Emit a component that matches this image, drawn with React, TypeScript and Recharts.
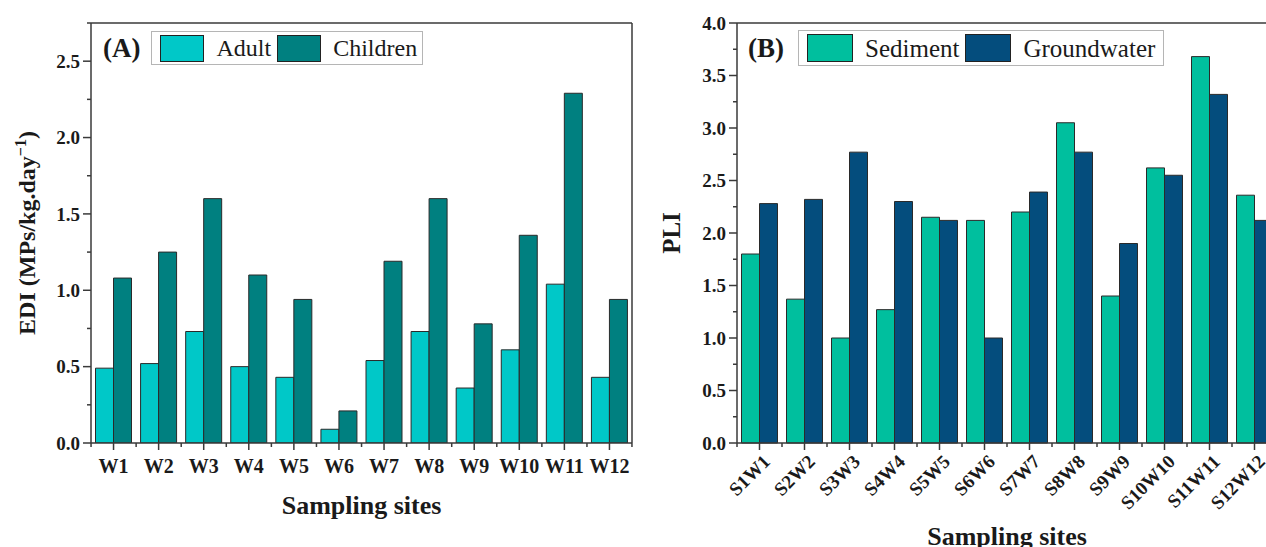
import React from "react";
import { BarChart, Bar, XAxis, YAxis, Legend, Label } from "recharts";

const sites = ["W1", "W2", "W3", "W4", "W5", "W6", "W7", "W8", "W9", "W10", "W11", "W12"];
const adult = [0.49, 0.52, 0.73, 0.5, 0.43, 0.09, 0.54, 0.73, 0.36, 0.61, 1.04, 0.43];
const children = [1.08, 1.25, 1.6, 1.1, 0.94, 0.21, 1.19, 1.6, 0.78, 1.36, 2.29, 0.94];

const pairSites = ["S1W1", "S2W2", "S3W3", "S4W4", "S5W5", "S6W6", "S7W7", "S8W8", "S9W9", "S10W10", "S11W11", "S12W12"];
const sediment = [1.8, 1.37, 1.0, 1.27, 2.15, 2.12, 2.2, 3.05, 1.4, 2.62, 3.68, 2.36];
const groundwater = [2.28, 2.32, 2.77, 2.3, 2.12, 1.0, 2.39, 2.77, 1.9, 2.55, 3.32, 2.12];

const ediTicks = [0, 0.5, 1.0, 1.5, 2.0, 2.5];
const ediMinor = [0.25, 0.75, 1.25, 1.75, 2.25, 2.75];
const pliTicks = [0, 0.5, 1.0, 1.5, 2.0, 2.5, 3.0, 3.5, 4.0];
const pliMinor = [0.25, 0.75, 1.25, 1.75, 2.25, 2.75, 3.25, 3.75];

const dataA = sites.map((site, i) => ({ site, adult: adult[i], children: children[i] }));
const dataB = pairSites.map((site, i) => ({ site, sediment: sediment[i], groundwater: groundwater[i] }));

const FONT = "'Liberation Serif', 'Times New Roman', serif";
const INK = "#1a1a1a";
const AXIS = "#3a3a3a";
const BAND = 45;

const makeYTick = (majors: number[]) => (props: any) => {
  const { x, y, payload } = props;
  const major = majors.includes(payload.value);
  return (
    <g>
      <line x1={x - (major ? 8 : 4)} x2={x} y1={y} y2={y} stroke={AXIS} strokeWidth={1.5} />
      {major && (
        <text x={x - 11} y={y} dy="0.35em" textAnchor="end" fontFamily={FONT} fontWeight={700} fontSize={19} fill={INK}>
          {payload.value.toFixed(1)}
        </text>
      )}
    </g>
  );
};

const makeXTick = (rotated: boolean, count: number) => (props: any) => {
  const { x, y, payload, index } = props;
  return (
    <g>
      <line x1={x} x2={x} y1={y} y2={y + 7} stroke={AXIS} strokeWidth={1.5} />
      <line x1={x - BAND / 2} x2={x - BAND / 2} y1={y} y2={y + 4} stroke={AXIS} strokeWidth={1.5} />
      {index === count - 1 && (
        <line x1={x + BAND / 2} x2={x + BAND / 2} y1={y} y2={y + 4} stroke={AXIS} strokeWidth={1.5} />
      )}
      {rotated ? (
        <text
          x={x + 7}
          y={y + 15}
          textAnchor="end"
          dy="0.35em"
          transform={`rotate(-45, ${x + 7}, ${y + 15})`}
          fontFamily={FONT}
          fontWeight={700}
          fontSize={19}
          fill={INK}
        >
          {payload.value}
        </text>
      ) : (
        <text x={x} y={y + 30} textAnchor="middle" fontFamily={FONT} fontWeight={700} fontSize={20} fill={INK}>
          {payload.value}
        </text>
      )}
    </g>
  );
};

const makeLegend = (
  tag: string,
  order: string[],
  size: number,
  gapTag: number,
  boxW: number,
  boxH: number,
  sw: number,
  sh: number
) => ({ payload }: any) => {
  const items = [...(payload || [])].sort((a: any, b: any) => order.indexOf(a.value) - order.indexOf(b.value));
  return (
    <div style={{ display: "flex", alignItems: "center", fontFamily: FONT, color: INK }}>
      <span style={{ fontWeight: 700, fontSize: 27, marginRight: gapTag }}>{tag}</span>
      <div
        style={{
          display: "flex",
          alignItems: "center",
          border: "1px solid #b5b5b5",
          width: boxW,
          height: boxH,
          boxSizing: "border-box",
          paddingLeft: 8,
        }}
      >
        {items.map((p: any, i: number) => (
          <React.Fragment key={p.value}>
            <span
              style={{
                display: "inline-block",
                width: sw,
                height: sh,
                background: p.color,
                border: "1px solid #222",
                boxSizing: "border-box",
                marginLeft: i === 0 ? 0 : 6,
              }}
            />
            <span style={{ fontSize: size, marginLeft: 12, lineHeight: 1 }}>{p.value}</span>
          </React.Fragment>
        ))}
      </div>
    </div>
  );
};

const xTitle = (dy: number) => (props: any) => {
  const vb = props.viewBox;
  return (
    <text x={vb.x + vb.width / 2} y={vb.y + dy} textAnchor="middle" fontFamily={FONT} fontWeight={700} fontSize={26} fill={INK}>
      Sampling sites
    </text>
  );
};

const ediTitle = (props: any) => {
  const vb = props.viewBox;
  const cx = 27;
  const cy = vb.y + vb.height / 2;
  return (
    <text
      x={cx}
      y={cy}
      dy="0.35em"
      textAnchor="middle"
      transform={`rotate(-90, ${cx}, ${cy})`}
      fontFamily={FONT}
      fontWeight={700}
      fontSize={24}
      fill={INK}
    >
      EDI (MPs/kg.day
      <tspan dy="-9" fontSize={16}>−1</tspan>
      <tspan dy="9">)</tspan>
    </text>
  );
};

const pliTitle = (props: any) => {
  const vb = props.viewBox;
  const cx = 31;
  const cy = vb.y + vb.height / 2;
  return (
    <text
      x={cx}
      y={cy}
      dy="0.35em"
      textAnchor="middle"
      transform={`rotate(-90, ${cx}, ${cy})`}
      fontFamily={FONT}
      fontWeight={700}
      fontSize={25}
      fill={INK}
    >
      PLI
    </text>
  );
};

export default function App() {
  const ediAll = [...ediTicks, ...ediMinor].sort((a, b) => a - b);
  const pliAll = [...pliTicks, ...pliMinor].sort((a, b) => a - b);
  return (
    <div
      style={{
        position: "absolute",
        left: 0,
        top: 0,
        width: 1266,
        height: 547,
        overflow: "hidden",
        background: "#fff",
      }}
    >
      <div style={{ position: "absolute", left: 0, top: 0 }}>
        <BarChart
          width={640}
          height={547}
          data={dataA}
          margin={{ top: 22, right: 7, bottom: 0, left: 0 }}
          barCategoryGap="10%"
          barGap={0}
        >
          <XAxis
            dataKey="site"
            height={104}
            interval={0}
            tickSize={0}
            tickMargin={0}
            tickLine={false}
            axisLine={{ stroke: AXIS, strokeWidth: 1.5 }}
            tick={makeXTick(false, sites.length)}
          >
            <Label content={xTitle(71)} />
          </XAxis>
          <XAxis
            xAxisId="top"
            dataKey="site"
            orientation="top"
            height={1}
            tick={false}
            tickLine={false}
            axisLine={{ stroke: AXIS, strokeWidth: 1.5 }}
          />
          <YAxis
            width={91}
            domain={[0, 2.75]}
            ticks={ediAll}
            interval={0}
            allowDataOverflow
            tickSize={0}
            tickMargin={0}
            tickLine={false}
            axisLine={{ stroke: AXIS, strokeWidth: 1.5 }}
            tick={makeYTick(ediTicks)}
          >
            <Label content={ediTitle} />
          </YAxis>
          <YAxis
            yAxisId="right"
            orientation="right"
            type="number"
            domain={[0, 2.75]}
            width={1}
            tick={false}
            tickLine={false}
            axisLine={{ stroke: AXIS, strokeWidth: 1.5 }}
          />
          <Legend
            verticalAlign="middle"
            layout="horizontal"
            align="center"
            wrapperStyle={{ left: 103, top: 31, width: "auto", height: "auto" }}
            content={makeLegend("(A)", ["Adult", "Children"], 24, 11, 272, 34, 44, 27)}
          />
          <Bar dataKey="adult" name="Adult" fill="#00C8C8" stroke="#2a2a2a" strokeWidth={1} isAnimationActive={false} />
          <Bar dataKey="children" name="Children" fill="#008080" stroke="#2a2a2a" strokeWidth={1} isAnimationActive={false} />
        </BarChart>
      </div>

      <div style={{ position: "absolute", left: 640, top: 0 }}>
        <BarChart
          width={640}
          height={547}
          data={dataB}
          margin={{ top: 22, right: 3, bottom: 0, left: 0 }}
          barCategoryGap="10%"
          barGap={0}
        >
          <XAxis
            dataKey="site"
            height={104}
            interval={0}
            tickSize={0}
            tickMargin={0}
            tickLine={false}
            axisLine={{ stroke: AXIS, strokeWidth: 1.5 }}
            tick={makeXTick(true, pairSites.length)}
          >
            <Label content={xTitle(102)} />
          </XAxis>
          <XAxis
            xAxisId="top"
            dataKey="site"
            orientation="top"
            height={1}
            tick={false}
            tickLine={false}
            axisLine={{ stroke: AXIS, strokeWidth: 1.5 }}
          />
          <YAxis
            width={97}
            domain={[0, 4]}
            ticks={pliAll}
            interval={0}
            tickSize={0}
            tickMargin={0}
            tickLine={false}
            axisLine={{ stroke: AXIS, strokeWidth: 1.5 }}
            tick={makeYTick(pliTicks)}
          >
            <Label content={pliTitle} />
          </YAxis>
          <Legend
            verticalAlign="middle"
            layout="horizontal"
            align="center"
            wrapperStyle={{ left: 108, top: 30, width: "auto", height: "auto" }}
            content={makeLegend("(B)", ["Sediment", "Groundwater"], 25, 14, 366, 36, 46, 28)}
          />
          <Bar dataKey="sediment" name="Sediment" fill="#00BF9E" stroke="#2a2a2a" strokeWidth={1} isAnimationActive={false} />
          <Bar dataKey="groundwater" name="Groundwater" fill="#044D7D" stroke="#2a2a2a" strokeWidth={1} isAnimationActive={false} />
        </BarChart>
      </div>
    </div>
  );
}
